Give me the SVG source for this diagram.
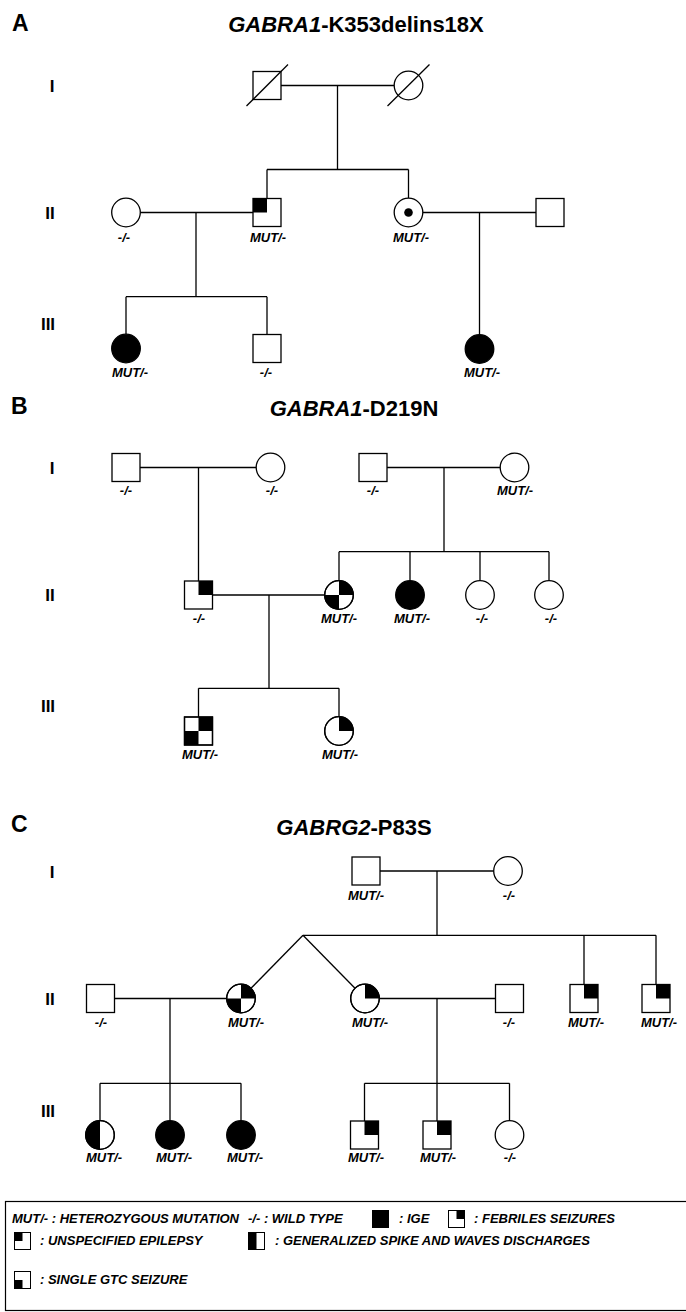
<svg xmlns="http://www.w3.org/2000/svg" width="686" height="1312" viewBox="0 0 686 1312">
<style>
.bg{fill:#fff}
.n{fill:#fff;stroke:#000;stroke-width:1.3}
.f{fill:#000}
.c line,.c polyline{stroke:#000;stroke-width:1.3;fill:none}
.sl{stroke:#000;stroke-width:1.3}
.lb{font-family:"Liberation Sans",Arial,sans-serif;font-weight:bold;font-style:italic;font-size:13px;text-anchor:middle;fill:#000}
.gen{font-family:"Liberation Sans",Arial,sans-serif;font-weight:bold;font-size:17px;text-anchor:middle;fill:#000}
.sec{font-family:"Liberation Sans",Arial,sans-serif;font-weight:bold;font-size:23px;fill:#000}
.tt{font-family:"Liberation Sans",Arial,sans-serif;font-weight:bold;font-size:22px;text-anchor:middle;fill:#000}
.lg{font-family:"Liberation Sans",Arial,sans-serif;font-weight:bold;font-style:italic;font-size:13px;fill:#000}
.box{fill:none;stroke:#000;stroke-width:1.2}
.ic{fill:#fff;stroke:#000;stroke-width:1}
</style>
<rect class="bg" x="0" y="0" width="686" height="1312"/>

<!-- ===== Section A ===== -->
<text class="sec" x="12" y="31">A</text>
<text class="tt" x="356" y="32"><tspan font-style="italic">GABRA1</tspan>-K353delins18X</text>
<text class="gen" x="52" y="92">I</text>
<text class="gen" x="50" y="219">II</text>
<text class="gen" x="48" y="330">III</text>

<g class="c" id="A-connectors">
  <line x1="281" y1="85.5" x2="394.2" y2="85.5"/>
  <line x1="337.5" y1="85.5" x2="337.5" y2="169.5"/>
  <line x1="267" y1="169.5" x2="408.5" y2="169.5"/>
  <line x1="267" y1="169.5" x2="267" y2="198.5"/>
  <line x1="408.5" y1="169.5" x2="408.5" y2="198.2"/>
  <line x1="140.3" y1="212.5" x2="253" y2="212.5"/>
  <line x1="196" y1="212.5" x2="196" y2="296.7"/>
  <line x1="126" y1="296.7" x2="267" y2="296.7"/>
  <line x1="126" y1="296.7" x2="126" y2="334.2"/>
  <line x1="267" y1="296.7" x2="267" y2="334.5"/>
  <line x1="422.8" y1="212.5" x2="536" y2="212.5"/>
  <line x1="479.5" y1="212.5" x2="479.5" y2="334.7"/>
</g>

<g id="A-I-1"><rect class="n" x="253" y="71.5" width="28" height="28"/><line class="sl" x1="246.5" y1="106" x2="288" y2="64.5"/></g>
<g id="A-I-2"><circle class="n" cx="408.5" cy="85.5" r="14.3"/><line class="sl" x1="387.5" y1="106" x2="429.5" y2="64.5"/></g>
<g id="A-II-1"><circle class="n" cx="126" cy="212.5" r="14.3"/><text class="lb" x="124" y="242">-/-</text></g>
<g id="A-II-2"><rect class="n" x="253" y="198.5" width="28" height="28"/><rect class="f" x="253" y="198.5" width="14" height="14"/><text class="lb" x="268" y="242">MUT/-</text></g>
<g id="A-II-3"><circle class="n" cx="408.5" cy="212.5" r="14.3"/><circle class="f" cx="408.5" cy="212.5" r="4.3"/><text class="lb" x="411" y="242">MUT/-</text></g>
<g id="A-II-4"><rect class="n" x="536" y="198.5" width="28" height="28"/></g>
<g id="A-III-1"><circle class="n" cx="126" cy="348.5" r="14.3" style="fill:#000"/><text class="lb" x="130" y="377">MUT/-</text></g>
<g id="A-III-2"><rect class="n" x="253" y="334.5" width="28" height="28"/><text class="lb" x="266" y="377">-/-</text></g>
<g id="A-III-3"><circle class="n" cx="479.5" cy="349" r="14.3" style="fill:#000"/><text class="lb" x="482" y="377">MUT/-</text></g>

<!-- ===== Section B ===== -->
<text class="sec" x="11" y="414">B</text>
<text class="tt" x="354" y="416"><tspan font-style="italic">GABRA1</tspan>-D219N</text>
<text class="gen" x="52" y="474">I</text>
<text class="gen" x="50" y="601">II</text>
<text class="gen" x="48" y="712">III</text>

<g class="c" id="B-connectors">
  <line x1="140" y1="467.5" x2="256.2" y2="467.5"/>
  <line x1="198.5" y1="467.5" x2="198.5" y2="581"/>
  <line x1="387" y1="467.5" x2="500.2" y2="467.5"/>
  <line x1="444" y1="467.5" x2="444" y2="551.7"/>
  <line x1="339" y1="551.7" x2="549" y2="551.7"/>
  <line x1="339" y1="551.7" x2="339" y2="580.7"/>
  <line x1="410" y1="551.7" x2="410" y2="580.7"/>
  <line x1="480" y1="551.7" x2="480" y2="580.7"/>
  <line x1="549" y1="551.7" x2="549" y2="580.7"/>
  <line x1="212.5" y1="595" x2="324.7" y2="595"/>
  <line x1="269" y1="595" x2="269" y2="688.3"/>
  <line x1="198.5" y1="688.3" x2="339" y2="688.3"/>
  <line x1="198.5" y1="688.3" x2="198.5" y2="717"/>
  <line x1="339" y1="688.3" x2="339" y2="716.7"/>
</g>

<g id="B-I-1"><rect class="n" x="112" y="453.5" width="28" height="28"/><text class="lb" x="126" y="495">-/-</text></g>
<g id="B-I-2"><circle class="n" cx="270.5" cy="467.5" r="14.3"/><text class="lb" x="272" y="495">-/-</text></g>
<g id="B-I-3"><rect class="n" x="359" y="453.5" width="28" height="28"/><text class="lb" x="373" y="495">-/-</text></g>
<g id="B-I-4"><circle class="n" cx="514.5" cy="467.5" r="14.3"/><text class="lb" x="515" y="495">MUT/-</text></g>
<g id="B-II-1"><rect class="n" x="184.5" y="581" width="28" height="28"/><rect class="f" x="198.5" y="581" width="14" height="14"/><text class="lb" x="199" y="623">-/-</text></g>
<g id="B-II-2"><circle class="n" cx="339" cy="595" r="14.3"/><path class="f" d="M339 595V580.7A14.3 14.3 0 0 1 353.3 595Z"/><path class="f" d="M339 595V609.3A14.3 14.3 0 0 1 324.7 595Z"/><circle cx="339" cy="595" r="14.3" fill="none" stroke="#000" stroke-width="1.3"/><text class="lb" x="339" y="623">MUT/-</text></g>
<g id="B-II-3"><circle class="n" cx="410" cy="595" r="14.3" style="fill:#000"/><text class="lb" x="412" y="623">MUT/-</text></g>
<g id="B-II-4"><circle class="n" cx="480" cy="595" r="14.3"/><text class="lb" x="482" y="623">-/-</text></g>
<g id="B-II-5"><circle class="n" cx="549" cy="595" r="14.3"/><text class="lb" x="551" y="623">-/-</text></g>
<g id="B-III-1"><rect class="n" x="184.5" y="717" width="28" height="28"/><rect class="f" x="198.5" y="717" width="14" height="14"/><rect class="f" x="184.5" y="731" width="14" height="14"/><rect x="184.5" y="717" width="28" height="28" fill="none" stroke="#000" stroke-width="1.3"/><text class="lb" x="200" y="759">MUT/-</text></g>
<g id="B-III-2"><circle class="n" cx="339" cy="731" r="14.3"/><path class="f" d="M339 731V716.7A14.3 14.3 0 0 1 353.3 731Z"/><circle cx="339" cy="731" r="14.3" fill="none" stroke="#000" stroke-width="1.3"/><text class="lb" x="340" y="759">MUT/-</text></g>

<!-- ===== Section C ===== -->
<text class="sec" x="11" y="832">C</text>
<text class="tt" x="354" y="835"><tspan font-style="italic">GABRG2</tspan>-P83S</text>
<text class="gen" x="52" y="878">I</text>
<text class="gen" x="50" y="1005">II</text>
<text class="gen" x="48" y="1117">III</text>

<g class="c" id="C-connectors">
  <line x1="380" y1="871" x2="493.7" y2="871"/>
  <line x1="437" y1="871" x2="437" y2="935.3"/>
  <line x1="303" y1="935.3" x2="656" y2="935.3"/>
  <line x1="584" y1="935.3" x2="584" y2="984.5"/>
  <line x1="656" y1="935.3" x2="656" y2="984.5"/>
  <line x1="303" y1="935.3" x2="251" y2="988.3"/>
  <line x1="303" y1="935.3" x2="355" y2="988.3"/>
  <line x1="114.5" y1="998.5" x2="226.7" y2="998.5"/>
  <line x1="170" y1="998.5" x2="170" y2="1083.3"/>
  <line x1="100" y1="1083.3" x2="241" y2="1083.3"/>
  <line x1="100" y1="1083.3" x2="100" y2="1120.7"/>
  <line x1="170" y1="1083.3" x2="170" y2="1120.7"/>
  <line x1="241" y1="1083.3" x2="241" y2="1120.7"/>
  <line x1="379.3" y1="998.5" x2="495.5" y2="998.5"/>
  <line x1="437" y1="998.5" x2="437" y2="1083.3"/>
  <line x1="364.5" y1="1083.3" x2="509.5" y2="1083.3"/>
  <line x1="364.5" y1="1083.3" x2="364.5" y2="1121"/>
  <line x1="437" y1="1083.3" x2="437" y2="1121"/>
  <line x1="509.5" y1="1083.3" x2="509.5" y2="1120.7"/>
</g>

<g id="C-I-1"><rect class="n" x="352" y="857" width="28" height="28"/><text class="lb" x="366" y="900">MUT/-</text></g>
<g id="C-I-2"><circle class="n" cx="508" cy="871" r="14.3"/><text class="lb" x="509" y="900">-/-</text></g>
<g id="C-II-1"><rect class="n" x="86.5" y="984.5" width="28" height="28"/><text class="lb" x="101" y="1027">-/-</text></g>
<g id="C-II-2"><circle class="n" cx="241" cy="998.5" r="14.3"/><path class="f" d="M241 998.5V984.2A14.3 14.3 0 0 1 255.3 998.5Z"/><path class="f" d="M241 998.5V1012.8A14.3 14.3 0 0 1 226.7 998.5Z"/><circle cx="241" cy="998.5" r="14.3" fill="none" stroke="#000" stroke-width="1.3"/><text class="lb" x="246" y="1027">MUT/-</text></g>
<g id="C-II-3"><circle class="n" cx="365" cy="998.5" r="14.3"/><path class="f" d="M365 998.5V984.2A14.3 14.3 0 0 1 379.3 998.5Z"/><circle cx="365" cy="998.5" r="14.3" fill="none" stroke="#000" stroke-width="1.3"/><text class="lb" x="370" y="1027">MUT/-</text></g>
<g id="C-II-4"><rect class="n" x="495.5" y="984.5" width="28" height="28"/><text class="lb" x="509" y="1027">-/-</text></g>
<g id="C-II-5"><rect class="n" x="570" y="984.5" width="28" height="28"/><rect class="f" x="584" y="984.5" width="14" height="14"/><text class="lb" x="586" y="1027">MUT/-</text></g>
<g id="C-II-6"><rect class="n" x="642" y="984.5" width="28" height="28"/><rect class="f" x="656" y="984.5" width="14" height="14"/><text class="lb" x="659" y="1027">MUT/-</text></g>
<g id="C-III-1"><circle class="n" cx="100" cy="1135" r="14.3"/><path class="f" d="M100 1120.7A14.3 14.3 0 0 0 100 1149.3Z"/><circle cx="100" cy="1135" r="14.3" fill="none" stroke="#000" stroke-width="1.3"/><text class="lb" x="104" y="1162">MUT/-</text></g>
<g id="C-III-2"><circle class="n" cx="170" cy="1135" r="14.3" style="fill:#000"/><text class="lb" x="174" y="1162">MUT/-</text></g>
<g id="C-III-3"><circle class="n" cx="241" cy="1135" r="14.3" style="fill:#000"/><text class="lb" x="245" y="1162">MUT/-</text></g>
<g id="C-III-4"><rect class="n" x="350.5" y="1121" width="28" height="28"/><rect class="f" x="364.5" y="1121" width="14" height="14"/><text class="lb" x="366" y="1162">MUT/-</text></g>
<g id="C-III-5"><rect class="n" x="423" y="1121" width="28" height="28"/><rect class="f" x="437" y="1121" width="14" height="14"/><text class="lb" x="438" y="1162">MUT/-</text></g>
<g id="C-III-6"><circle class="n" cx="509.5" cy="1135" r="14.3"/><text class="lb" x="510" y="1162">-/-</text></g>

<!-- ===== Legend ===== -->
<g id="legend">
  <rect class="box" x="5.5" y="1201.5" width="700" height="109"/>
  <text class="lg" x="12" y="1223">MUT/- : HETEROZYGOUS MUTATION</text>
  <text class="lg" x="248" y="1223">-/- : WILD TYPE</text>
  <rect x="372" y="1210" width="17" height="18" fill="#000"/>
  <text class="lg" x="399" y="1223">: IGE</text>
  <rect class="ic" x="448.5" y="1210.5" width="16" height="17"/>
  <rect x="456.5" y="1210.5" width="8" height="8.5" fill="#000"/>
  <text class="lg" x="474" y="1223">: FEBRILES SEIZURES</text>
  <rect class="ic" x="14.5" y="1232.5" width="16" height="17"/>
  <rect x="14.5" y="1232.5" width="8" height="8.5" fill="#000"/>
  <text class="lg" x="40" y="1245">: UNSPECIFIED EPILEPSY</text>
  <rect class="ic" x="248.5" y="1232.5" width="16" height="17"/>
  <rect x="248.5" y="1232.5" width="8" height="17" fill="#000"/>
  <text class="lg" x="275" y="1245">: GENERALIZED SPIKE AND WAVES DISCHARGES</text>
  <rect class="ic" x="14.5" y="1271.5" width="16" height="17"/>
  <rect x="14.5" y="1280" width="8" height="8.5" fill="#000"/>
  <text class="lg" x="40" y="1284">: SINGLE GTC SEIZURE</text>
</g>
</svg>
